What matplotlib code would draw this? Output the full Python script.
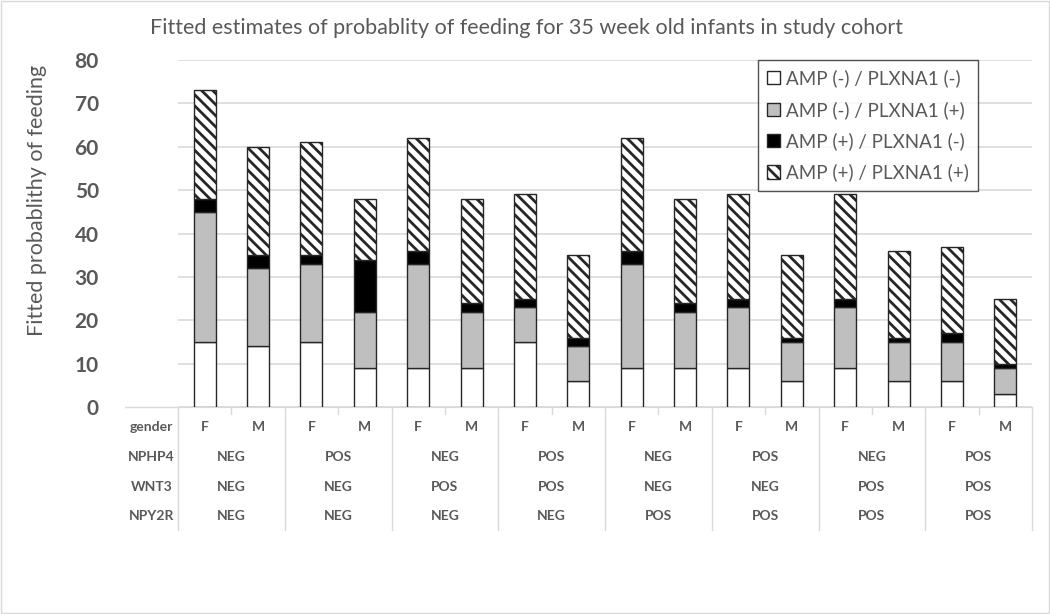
import matplotlib
matplotlib.use("Agg")
import matplotlib.pyplot as plt
import matplotlib.transforms as mtransforms
import numpy as np

plt.rcParams['font.family'] = ['Lato', 'DejaVu Sans']
plt.rcParams['hatch.linewidth'] = 2.0

title = "Fitted estimates of probablity of feeding for 35 week old infants in study cohort"
ylabel = "Fitted probablithy of feeding"

gender = ["F", "M"] * 8
nphp4 = ["NEG", "POS", "NEG", "POS", "NEG", "POS", "NEG", "POS"]
wnt3 = ["NEG", "NEG", "POS", "POS", "NEG", "NEG", "POS", "POS"]
npy2r = ["NEG", "NEG", "NEG", "NEG", "POS", "POS", "POS", "POS"]
row_names = ["gender", "NPHP4", "WNT3", "NPY2R"]

series_names = ["AMP (-) / PLXNA1 (-)", "AMP (-) / PLXNA1 (+)",
                "AMP (+) / PLXNA1 (-)", "AMP (+) / PLXNA1 (+)"]
amp_neg_plx_neg = [15, 14, 15, 9, 9, 9, 15, 6, 9, 9, 9, 6, 9, 6, 6, 3]
amp_neg_plx_pos = [30, 18, 18, 13, 24, 13, 8, 8, 24, 13, 14, 9, 14, 9, 9, 6]
amp_pos_plx_neg = [3, 3, 2, 12, 3, 2, 2, 2, 3, 2, 2, 1, 2, 1, 2, 1]
amp_pos_plx_pos = [25, 25, 26, 14, 26, 24, 24, 19, 26, 24, 24, 19, 24, 20, 20, 15]

fig = plt.figure(figsize=(10.5, 6.14), dpi=100)
W, H = 1050, 614
ax = fig.add_axes([178 / W, 1 - 407 / H, (1032 - 178) / W, (407 - 60) / H])

x = np.arange(len(gender))
bottom = np.zeros(len(x))
styles = [dict(color="white", hatch=None),
          dict(color="#bfbfbf", hatch=None),
          dict(color="black", hatch=None),
          dict(color="white", hatch="\\\\\\")]
for vals, name, st in zip([amp_neg_plx_neg, amp_neg_plx_pos, amp_pos_plx_neg, amp_pos_plx_pos],
                          series_names, styles):
    ax.bar(x, vals, 0.41, bottom=bottom, color=st["color"], hatch=st["hatch"],
           edgecolor="#262626", linewidth=1.0, label=name, zorder=3)
    bottom += np.array(vals)

ax.set_xlim(-0.5, len(x) - 0.5)
ax.set_ylim(0, 80)
ax.set_yticks(np.arange(0, 81, 10))
ax.yaxis.grid(True, color="#d9d9d9", linewidth=1.2, zorder=0)
ax.tick_params(axis="y", length=0, pad=57, labelsize=15, labelcolor="#595959")
for lbl in ax.get_yticklabels():
    lbl.set_fontweight("bold")
ax.set_xticks([])
for s in ["top", "right", "left"]:
    ax.spines[s].set_visible(False)
ax.spines["bottom"].set_color("#d9d9d9")

fig.text(37 / W, 1 - 200 / H, ylabel, rotation=90, ha="center", va="center",
         fontsize=15.5, color="#595959")
fig.text(527 / W, 1 - 28 / H, title, ha="center", va="center",
         fontsize=15.5, color="#595959")

# category table below the axis
trans = mtransforms.blended_transform_factory(ax.transData, ax.transAxes)
ah = 407 - 60
row_y = [(407 - py) / ah for py in [427, 457, 487, 516]]
tcol = "#595959"
for i, g in enumerate(gender):
    ax.text(x[i], row_y[0], g, transform=trans, ha="center", va="center",
            fontsize=10, color=tcol, clip_on=False, fontweight="bold")
for j, (a, b, c) in enumerate(zip(nphp4, wnt3, npy2r)):
    cx = 2 * j + 0.5
    for r, v in zip(row_y[1:], [a, b, c]):
        ax.text(cx, r, v, transform=trans, ha="center", va="center",
                fontsize=10, color=tcol, clip_on=False, fontweight="bold")
for r, name in zip(row_y, row_names):
    ax.text(-1.0, r, name, transform=trans, ha="center", va="center",
            fontsize=10, color=tcol, clip_on=False, fontweight="bold")

bot = (407 - 530) / ah
tickbot = (407 - 414) / ah
for k in range(0, len(x) + 1):
    xb = k - 0.5
    if k % 2 == 0:
        ax.plot([xb, xb], [0, bot], transform=trans, color="#d9d9d9", lw=1.0, clip_on=False)
    else:
        ax.plot([xb, xb], [0, tickbot], transform=trans, color="#d9d9d9", lw=1.0, clip_on=False)
ax.plot([-1.5, -0.5], [0, 0], transform=trans, color="#d9d9d9", lw=1.0, clip_on=False)

leg = ax.legend(loc="upper right", bbox_to_anchor=(978 / W, 1 - 60 / H),
                bbox_transform=fig.transFigure, fontsize=13.5, frameon=True,
                fancybox=False, edgecolor="#262626", handlelength=0.7,
                handleheight=0.7, handletextpad=0.3, labelspacing=0.72,
                borderpad=0.5, borderaxespad=0, labelcolor="#595959")
leg.get_frame().set_linewidth(1.0)

fig.patches.append(plt.Rectangle((0.001, 0.001), 0.998, 0.998, transform=fig.transFigure,
                                 fill=False, edgecolor="#d9d9d9", lw=1))

fig.savefig("out.png", dpi=100)
